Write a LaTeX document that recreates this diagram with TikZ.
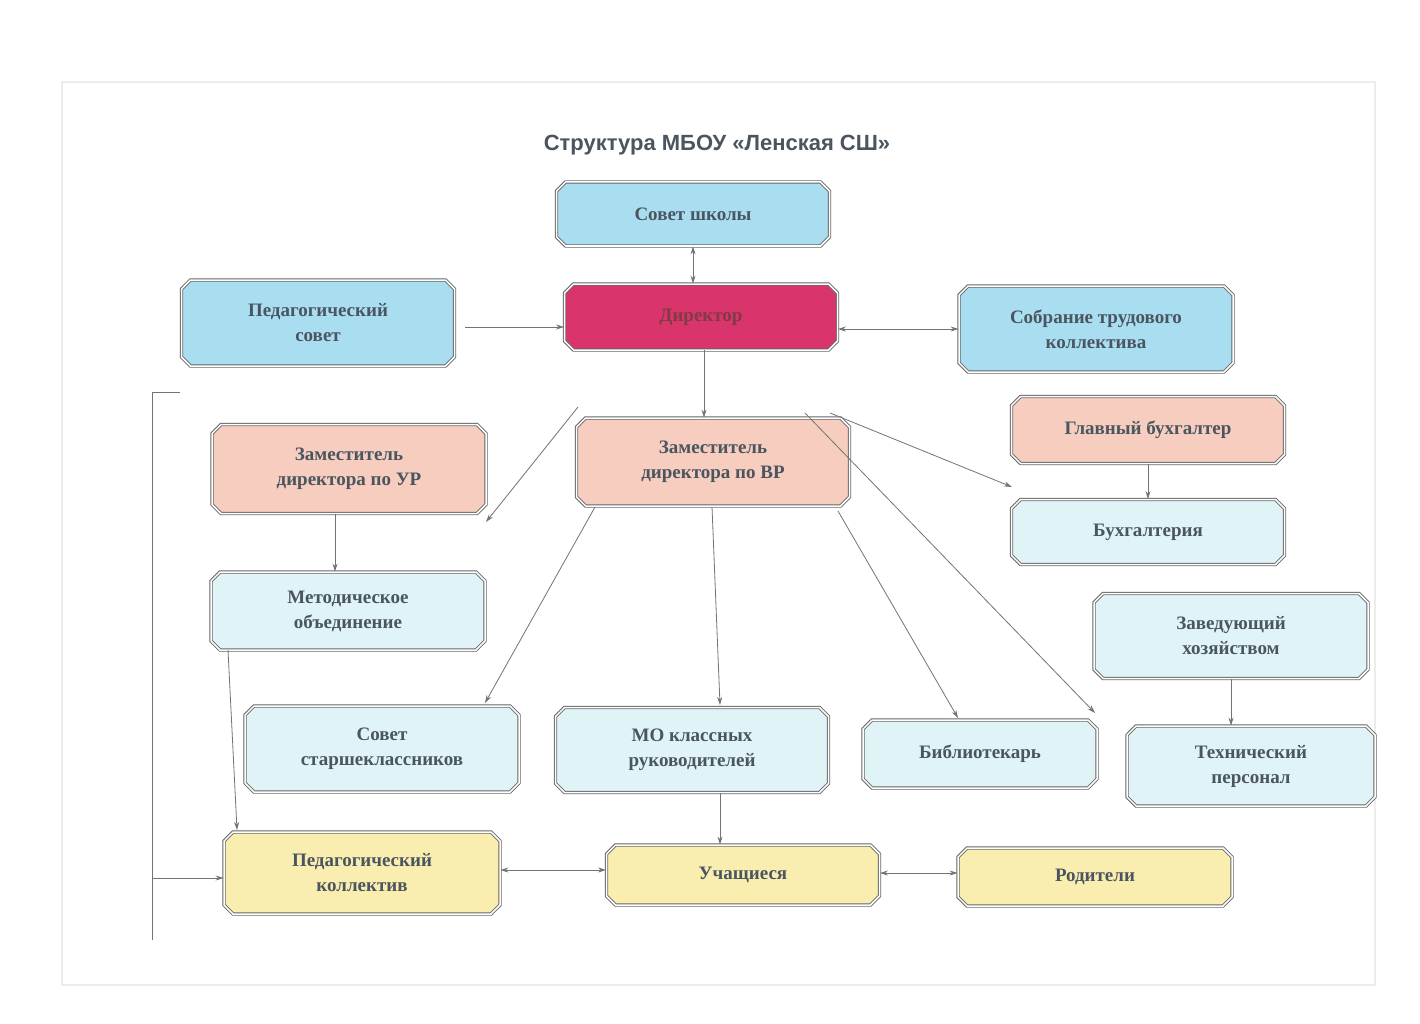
\documentclass[tikz,border=0pt]{standalone}
\usepackage{fontspec}
\setmainfont{Liberation Serif}
\newfontfamily\titlefont{Liberation Sans}
\usetikzlibrary{shapes.misc,arrows.meta}
\definecolor{cblue}{HTML}{A9DDF0}
\definecolor{cpink}{HTML}{D9356C}
\definecolor{csalmon}{HTML}{F6CDBE}
\definecolor{ccyan}{HTML}{E0F4F7}
\definecolor{cyellow}{HTML}{FAEDB0}
\definecolor{ctext}{HTML}{4A5560}
\tikzset{
  box/.style={chamfered rectangle, chamfered rectangle xsep=6pt, draw=gray!80!black, double=white, double distance=1.5pt, line width=0.9pt, align=center, text=ctext, font=\bfseries\fontsize{19}{25}\selectfont, inner sep=0pt},
  arr/.style={-{Stealth[length=8pt,width=5pt]}, gray!90!black, line width=0.8pt},
  darr/.style={{Stealth[length=8pt,width=5pt]}-{Stealth[length=8pt,width=5pt]}, gray!90!black, line width=0.8pt},
}
\begin{document}
\begin{tikzpicture}[x=1pt,y=-1pt]
\useasboundingbox (0,0) rectangle (1420,1024);
\fill[white] (0,0) rectangle (1420,1024);
\draw[gray!15, line width=2pt] (62,82) rectangle (1375,985);
\node[font=\titlefont\bfseries\fontsize{22}{26}\selectfont, text=ctext] (title) at (717,145) {Структура МБОУ «Ленская СШ»};
\newcommand{\bx}[6]{\node[box, fill=#5, minimum width=#3pt, minimum height=#4pt] (#1) at (#2) {#6};}
\bx{sovet}{693,214}{273}{64}{cblue}{Совет школы}
\bx{dir}{701,317}{273}{66}{cpink}{\textcolor{ctext!70!red}{Директор}}
\bx{ped}{318,323}{273}{86}{cblue}{Педагогический\\совет}
\bx{sobr}{1096,329}{274}{86}{cblue}{Собрание трудового\\коллектива}
\bx{zur}{349,469}{274}{89}{csalmon}{Заместитель\\директора по УР}
\bx{zvr}{713,462}{273}{88}{csalmon}{Заместитель\\директора по ВР}
\bx{gb}{1148,430}{273}{67}{csalmon}{Главный бухгалтер}
\bx{buh}{1148,532}{273}{65}{ccyan}{Бухгалтерия}
\bx{met}{348,611}{274}{78}{ccyan}{Методическое\\объединение}
\bx{zav}{1231,636}{274}{85}{ccyan}{Заведующий\\хозяйством}
\bx{sst}{382,749}{274}{86}{ccyan}{Совет\\старшеклассников}
\bx{mo}{692,750}{273}{85}{ccyan}{МО классных\\руководителей}
\bx{bib}{980,754}{234}{68}{ccyan}{Библиотекарь}
\bx{teh}{1251,766}{248}{80}{ccyan}{Технический\\персонал}
\bx{pk}{362,873}{276}{82}{cyellow}{Педагогический\\коллектив}
\bx{uch}{743,875}{273}{60}{cyellow}{Учащиеся}
\bx{rod}{1095,877}{274}{58}{cyellow}{Родители}

\coordinate (s1) at (sovet.south); \draw[darr] (s1) -- (dir.north -| s1);
\coordinate (p1) at (465,327); \draw[arr] (p1) -- (dir.west |- p1);
\coordinate (d1) at (dir.east |- 0,329); \draw[darr] (d1) -- (sobr.west |- d1);
\coordinate (v1) at (704,350); \draw[arr] (v1) -- (zvr.north -| v1);
\coordinate (a1) at (578,407); \coordinate (a2) at (486,522);
\draw[arr] (a1) -- (a2);
\coordinate (b1) at (830,413); \coordinate (b2) at (1012,487);
\draw[arr] (b1) -- (b2);
\coordinate (c1) at (805,413); \coordinate (c2) at (1095,713);
\draw[arr] (c1) -- (c2);
\draw[arr] (gb.south) -- (buh.north);
\coordinate (u1) at (335,514); \draw[arr] (u1) -- (met.north -| u1);
\coordinate (e1) at (595,507); \coordinate (e2) at (485,703); \draw[arr] (e1) -- (e2);
\coordinate (f1) at (712,507); \coordinate (f2) at (720,705); \draw[arr] (f1) -- (f2);
\coordinate (g1) at (838,511); \coordinate (g2) at (958,718); \draw[arr] (g1) -- (g2);
\coordinate (z1) at (zav.south); \draw[arr] (z1) -- (teh.north -| z1);
\coordinate (h1) at (228,650); \coordinate (h2) at (237,830); \draw[arr] (h1) -- (h2);
\coordinate (m1) at (720,793);
\draw[arr] (m1) -- (uch.north -| m1);
\coordinate (q1) at (pk.east |- 0,870); \draw[darr] (q1) -- (uch.west |- q1);
\coordinate (r1) at (uch.east |- 0,873); \draw[darr] (r1) -- (rod.west |- r1);
\coordinate (k1) at (180,392); \coordinate (k2) at (152,392); \coordinate (k3) at (152,940);
\draw[gray!90!black, line width=0.8pt] (k1) -- (k2) -- (k3);
\coordinate (k4) at (152,878);
\draw[arr] (k4) -- (pk.west |- k4);
\end{tikzpicture}
\end{document}
